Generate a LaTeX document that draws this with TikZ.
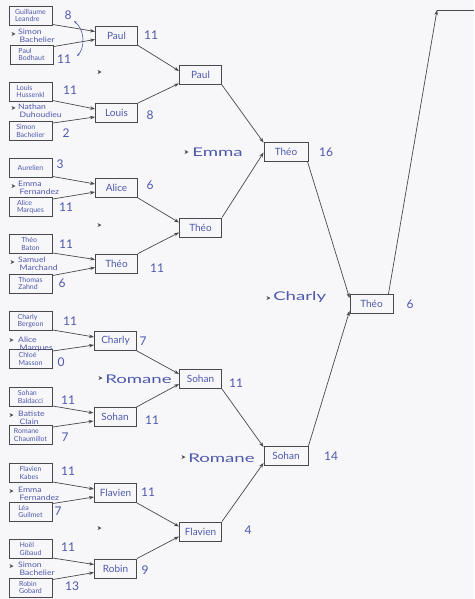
\documentclass[tikz,border=0pt]{standalone}
\usepackage{fontspec}
\setmainfont{Lato}
\usetikzlibrary{arrows.meta,calc}
\definecolor{ink}{RGB}{78,88,172}
\definecolor{pen}{RGB}{72,72,78}
\definecolor{paper}{RGB}{247,247,249}
\newcommand\refmark[1]{\fill[pen] (#1) ++(-2.5,-2) -- ++(4,2) -- ++(-4,2) -- ++(1.2,-2) -- cycle;}
\begin{document}
\begin{tikzpicture}[x=1pt,y=-1pt,
 box/.style={draw=pen,line width=0.9pt,inner sep=0pt,minimum height=19pt,text=ink},
 pbox/.style={box,minimum width=43pt,font=\fontsize{7}{7.3}\selectfont,align=left},
 wbox/.style={box,minimum width=42pt,font=\fontsize{10}{10}\selectfont},
 score/.style={text=ink,font=\fontsize{12}{12}\selectfont,inner sep=0pt},
 ref/.style={text=ink,font=\fontsize{7.5}{8}\selectfont,align=left,anchor=west,inner sep=0pt,xscale=1.15},
 bigref/.style={text=ink,font=\fontsize{12}{12}\selectfont,anchor=west,inner sep=0pt,xscale=1.55},
 conn/.style={draw=pen,line width=0.7pt,-{Stealth[length=5pt,width=3.5pt]}}]
\fill[paper] (0,0) rectangle (474,599);
\useasboundingbox (0,0) rectangle (474,599);

% ---- first round players
\node[pbox] (a1) at (30.5,15.5) {Guillaume\\Leandre};
\node[pbox] (a2) at (31.5,54.5) {Paul\\Bodhaut};
\node[pbox] (b1) at (30.5,91.5) {Louis\\Hussenkl};
\node[pbox] (b2) at (30.5,131) {Simon\\Bachelier};
\node[pbox] (c1) at (30.5,167.5) {Aurelien};
\node[pbox] (c2) at (30.5,207) {Alice\\Marques};
\node[pbox] (d1) at (30.5,244) {Théo\\Baton};
\node[pbox] (d2) at (30.5,283.5) {Thomas\\Zahnd};
\node[pbox] (e1) at (30.5,321) {Charly\\Bergeon};
\node[pbox] (e2) at (30.5,359) {Chloé\\Masson};
\node[pbox] (f1) at (30.5,397) {Sohan\\Baldacci};
\node[pbox] (f2) at (30.5,435) {Romane\\Chaumillot};
\node[pbox] (g1) at (30.5,473) {Flavien\\Kabes};
\node[pbox] (g2) at (30.5,511.5) {Léa\\Guilmet};
\node[pbox] (h1) at (30.5,549) {Hoël\\Gibaud};
\node[pbox] (h2) at (30.5,587.5) {Robin\\Gobard};

% ---- first round scores
\node[score] (sa1) at (68,15) {8};
\node[score] (sa2) at (64,59) {11};
\node[score] (sb1) at (70,90) {11};
\node[score] (sb2) at (66,133) {2};
\node[score] (sc1) at (60,164) {3};
\node[score] (sc2) at (66,207) {11};
\node[score] (sd1) at (66,244) {11};
\node[score] (sd2) at (62,283) {6};
\node[score] (se1) at (70,321) {11};
\node[score] (se2) at (61,362) {0};
\node[score] (sf1) at (68,400) {11};
\node[score] (sf2) at (65,437) {7};
\node[score] (sg1) at (68,471) {11};
\node[score] (sg2) at (58,511) {7};
\node[score] (sh1) at (68,547) {11};
\node[score] (sh2) at (72,586) {13};
\draw[ink,line width=0.6pt,{Stealth[length=3pt]}-{Stealth[length=3pt]}] (74,21) .. controls (85,30) and (85,48) .. (77,56);

% ---- first round referees
\refmark{14,34} \node[ref] (ra) at (18,36) {Simon\\\,Bachelier};
\refmark{14,108} \node[ref] (rb) at (18,111) {Nathan\\\,Duhoudieu};
\refmark{14,186} \node[ref] (rc) at (18,188) {Emma\\\,Fernandez};
\refmark{13,262} \node[ref] (rd) at (18,264) {Samuel\\\,Marchand};
\refmark{12,340} \node[ref] (re) at (18,344) {Alice\\\,Marques};
\refmark{12,415} \node[ref] (rf) at (18,418) {Batiste\\\,Clain};
\refmark{12,491} \node[ref] (rg) at (18,494) {Emma\\\,Fernandez};
\refmark{12,566} \node[ref] (rh) at (18,569) {Simon\\\,Bachelier};

% ---- second round
\node[wbox] (P) at (116.5,35.5) {Paul};
\node[wbox] (L) at (116.5,113) {Louis};
\node[wbox] (A) at (116.5,188) {Alice};
\node[wbox] (T) at (116.5,263.5) {Théo};
\node[wbox] (C) at (115.5,341) {Charly};
\node[wbox] (S) at (115,417) {Sohan};
\node[wbox] (F) at (115.5,493) {Flavien};
\node[wbox] (R) at (115.5,568.5) {Robin};
\node[score] (sP) at (151,35) {11};
\node[score] (sL) at (150,115) {8};
\node[score] (sA) at (150,185) {6};
\node[score] (sT) at (157,268) {11};
\node[score] (sC) at (143,341) {7};
\node[score] (sS) at (152,420) {11};
\node[score] (sF) at (148,492) {11};
\node[score] (sR) at (145,570) {9};

\foreach \u/\l/\w in {a1/a2/P,b1/b2/L,c1/c2/A,d1/d2/T,e1/e2/C,f1/f2/S,g1/g2/F,h1/h2/R}{
  \draw[conn] ([yshift=1pt]\u.south east) -- ([yshift=4pt]\w.west);
  \draw[conn] ([yshift=-2pt]\l.north east) -- ([yshift=-4pt]\w.west);
}
\refmark{100,72}
\refmark{100,225}
\refmark{101,378} \node[bigref] (rCS) at (105,379) {Romane};
\refmark{100,528}

% ---- third round
\node[wbox] (P2) at (200.5,75) {Paul};
\node[wbox] (T2) at (200.5,227.5) {Théo};
\node[wbox] (S2) at (200.5,379) {Sohan};
\node[wbox] (F2) at (200.5,531.5) {Flavien};
\node[score] (sS2) at (236,383) {11};
\node[score] (sF2) at (248,530) {4};
\draw[conn] (P.south east) -- ([yshift=4pt]P2.west);
\draw[conn] (L.north east) -- ([yshift=1.5pt]P2.south west);
\draw[conn] (A.south east) -- ([yshift=5pt]T2.west);
\draw[conn] (T.north east) -- ([yshift=-5pt]T2.west);
\draw[conn] (C.south east) -- ([yshift=5pt]S2.west);
\draw[conn] (S.north east) -- ([yshift=-5pt]S2.west);
\draw[conn] (F.south east) -- ([yshift=5pt]F2.west);
\draw[conn] (R.north east) -- ([yshift=-5pt]F2.west);

% ---- semi finals
\node[wbox,minimum width=44pt] (T3) at (286,151.5) {Théo};
\node[wbox,minimum width=44pt] (S3) at (286,456) {Sohan};
\node[score] (sT3) at (326,152) {16};
\node[score] (sS3) at (331,456) {14};
\refmark{187,152} \node[bigref] (rE) at (192,152) {Emma};
\refmark{184,457} \node[bigref] (rR) at (188,458) {Romane};
\draw[conn] (P2.south east) -- ([yshift=-1pt]T3.north west);
\draw[conn] (T2.north east) -- ([yshift=-1pt]T3.west);
\draw[conn] (S2.south east) -- ([yshift=-1pt]S3.north west);
\draw[conn] (F2.north east) -- ([yshift=3pt]S3.south west);

% ---- final
\node[wbox,minimum width=43pt] (W) at (371.5,304) {Théo};
\node[score] (sW) at (410,304) {6};
\refmark{269,298} \node[bigref] (rW) at (273,297) {Charly};
\draw[conn] ([xshift=-1pt]T3.south east) -- ([yshift=-4pt]W.north west);
\draw[conn] (S3.north east) -- ([yshift=3pt]W.south west);
\coordinate (top) at (437,10);
\coordinate (edge) at (474,10);
\draw[conn] ([xshift=-5pt]W.north east) -- (top);
\draw[draw=pen,line width=0.7pt] (top) -- (edge);
\end{tikzpicture}
\end{document}
